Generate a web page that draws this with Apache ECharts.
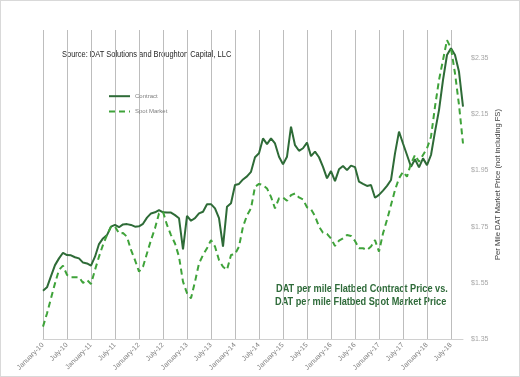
<!DOCTYPE html>
<html><head><meta charset="utf-8">
<script src="https://cdn.jsdelivr.net/npm/echarts@6/dist/echarts.min.js"></script>
<style>
html,body{margin:0;padding:0;background:#fff;}
#c{width:520px;height:377px;box-sizing:border-box;border:1px solid #d9d9d9;}
</style></head>
<body><div id="c"></div>
<script>
const monthNames = ["January","February","March","April","May","June","July","August","September","October","November","December"];
const years = ["10","11","12","13","14","15","16","17","18"];
const lastMonthIndex2018 = 9; // October 2018
const categories = [];
years.forEach(function(y, yi){
  monthNames.forEach(function(m, mi){
    if (yi === years.length - 1 && mi > lastMonthIndex2018) return;
    categories.push(m + "-" + y);
  });
});
const contract = [
1.522,1.534,1.574,1.613,1.637,1.657,1.649,1.648,1.641,1.637,1.622,1.619,
1.611,1.643,1.688,1.708,1.720,1.750,1.756,1.748,1.758,1.759,1.756,1.750,
1.751,1.760,1.782,1.797,1.801,1.809,1.801,1.800,1.800,1.791,1.780,1.669,
1.788,1.771,1.780,1.797,1.803,1.830,1.830,1.815,1.780,1.679,1.821,1.833,
1.898,1.902,1.918,1.929,1.945,1.997,2.011,2.064,2.044,2.064,2.046,1.999,
1.972,1.999,2.106,2.040,2.020,2.029,2.049,2.001,2.017,1.997,1.963,1.922,
1.948,1.912,1.954,1.966,1.951,1.967,1.962,1.910,1.902,1.895,1.898,1.853,
1.863,1.878,1.895,1.916,2.011,2.088,2.046,2.005,1.963,1.990,1.961,1.993,
1.969,2.005,2.088,2.165,2.272,2.361,2.385,2.361,2.301,2.177];
const spot = [
1.394,1.441,1.495,1.548,1.596,1.611,1.578,1.570,1.570,1.570,1.550,1.560,
1.546,1.596,1.643,1.685,1.720,1.750,1.750,1.726,1.727,1.714,1.667,1.631,
1.590,1.607,1.655,1.702,1.744,1.797,1.803,1.756,1.720,1.690,1.643,1.554,
1.513,1.495,1.554,1.619,1.649,1.673,1.702,1.679,1.631,1.607,1.596,1.649,
1.652,1.679,1.750,1.790,1.815,1.892,1.902,1.898,1.886,1.856,1.815,1.851,
1.854,1.842,1.862,1.868,1.854,1.847,1.819,1.812,1.788,1.750,1.728,1.724,
1.708,1.681,1.700,1.708,1.720,1.717,1.699,1.673,1.673,1.667,1.679,1.702,
1.661,1.726,1.774,1.827,1.880,1.922,1.945,1.928,1.975,2.005,1.981,2.005,
2.029,2.070,2.177,2.272,2.343,2.414,2.385,2.296,2.183,2.046];
const yMin = 1.35, yMax = 2.45, yStep = 0.2;
const FONT = '"Liberation Sans",Arial,sans-serif';
const chart = echarts.init(document.getElementById('c'));
chart.setOption({
  animation:false,
  grid:{left:42,right:56,top:29,bottom:37},
  legend:{
    orient:'vertical', left:102, top:87, itemWidth:21, itemHeight:8, itemGap:9,
    itemStyle:{opacity:0},
    textStyle:{fontSize:6,color:'#7f7f7f',fontFamily:FONT},
    data:['Contract','Spot Market']
  },
  graphic:[
    {type:'text',x:61,y:54,scaleX:0.83,style:{text:'Source: DAT Solutions and Broughton Capital, LLC',font:'9px '+FONT,fill:'#262626',verticalAlign:'middle'}},
    {type:'text',x:275,y:288,scaleX:0.835,style:{text:'DAT per mile Flatbed Contract Price vs.',font:'bold 11px '+FONT,fill:'#2f6b3a',verticalAlign:'middle'}},
    {type:'text',x:274,y:301,scaleX:0.835,style:{text:'DAT per mile Flatbed Spot Market Price',font:'bold 11px '+FONT,fill:'#2f6b3a',verticalAlign:'middle'}}
  ],
  xAxis:{
    type:'category', data:categories, boundaryGap:false,
    axisLine:{lineStyle:{color:'#d0d0d0'}},
    axisTick:{show:false},
    axisLabel:{interval:5,rotate:45,fontSize:7,color:'#7f7f7f',fontFamily:FONT,margin:5},
    splitLine:{show:true,interval:5,lineStyle:{color:'#bdbdbd',width:1}}
  },
  yAxis:{
    type:'value', position:'right', min:yMin, max:yMax, interval:yStep,
    axisLine:{show:false}, axisTick:{show:false}, splitLine:{show:false},
    axisLabel:{showMaxLabel:false,fontSize:7,color:'#a6a6a6',fontFamily:FONT,margin:8,
      formatter:function(v){return '$'+v.toFixed(2);}},
    name:'Per Mile DAT Market Price (not including FS)', nameLocation:'middle', nameGap:31, nameRotate:90,
    nameMoveOverlap:false,
    nameTextStyle:{fontSize:7.6,color:'#404040',fontFamily:FONT}
  },
  series:[
    {name:'Contract',type:'line',data:contract,symbol:'none',
     lineStyle:{color:'#2e6b37',width:2},itemStyle:{color:'#2e6b37'}},
    {name:'Spot Market',type:'line',data:spot,symbol:'none',
     lineStyle:{color:'#3fa33a',width:2,type:[6,4]},itemStyle:{color:'#3fa33a'}}
  ]
});
</script></body></html>
